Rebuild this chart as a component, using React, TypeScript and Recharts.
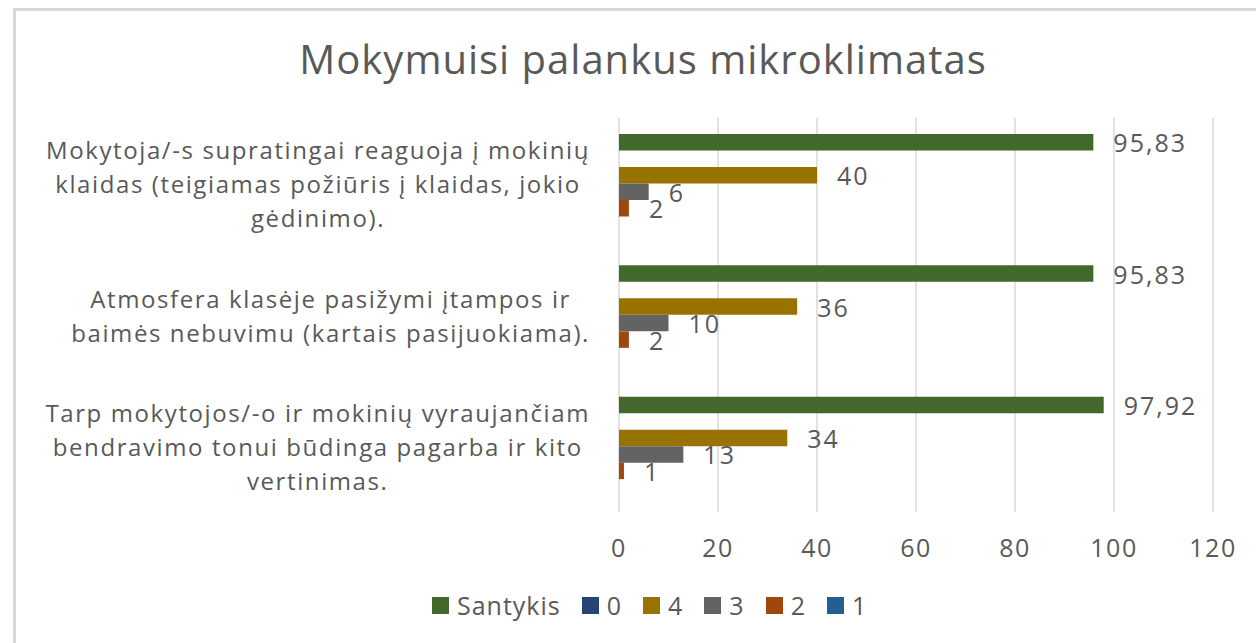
import React from 'react';
import { BarChart, Bar, XAxis, YAxis, CartesianGrid, Legend, LabelList } from 'recharts';

const categories = [
  'Mokytoja/-s supratingai reaguoja į mokinių\nklaidas (teigiamas požiūris į klaidas, jokio\ngėdinimo).',
  'Atmosfera klasėje pasižymi įtampos ir\nbaimės nebuvimu (kartais pasijuokiama).',
  'Tarp mokytojos/-o ir mokinių vyraujančiam\nbendravimo tonui būdinga pagarba ir kito\nvertinimas.',
];
const santykis = [95.83, 95.83, 97.92];
const s0: (number | null)[] = [null, null, null];
const s4 = [40, 36, 34];
const s3 = [6, 10, 13];
const s2 = [2, 2, 1];
const s1: (number | null)[] = [null, null, null];
const xTicks = [0, 20, 40, 60, 80, 100, 120];

const seriesList = [
  { key: 'Santykis', color: '#43682b' },
  { key: '0', color: '#264478' },
  { key: '4', color: '#997300' },
  { key: '3', color: '#636363' },
  { key: '2', color: '#9e480e' },
  { key: '1', color: '#255e91' },
];

const data = categories.map((name, i) => ({
  name,
  Santykis: santykis[i],
  '0': s0[i],
  '4': s4[i],
  '3': s3[i],
  '2': s2[i],
  '1': s1[i],
}));

const FONT = '"Open Sans", sans-serif';
const TEXT = '#595959';

let ctx: CanvasRenderingContext2D | null = null;
const measure = (s: string, size: number, spacing: number) => {
  if (!ctx) ctx = document.createElement('canvas').getContext('2d');
  if (!ctx) return s.length * (size * 0.55 + spacing);
  ctx.font = `${size}px "Open Sans"`;
  return ctx.measureText(s).width + s.length * spacing;
};

const CategoryTick = (props: any) => {
  const { x, y, payload } = props;
  const lines: string[] = String(payload.value).split('\n');
  const size = 24;
  const sp = 1.6;
  const lh = 34;
  const right = x - 21;
  const w = Math.max(...lines.map(l => measure(l, size, sp)));
  const cx = right - w / 2;
  return (
    <g>
      {lines.map((l, i) => (
        <text key={i} x={cx} y={y + (i - (lines.length - 1) / 2) * lh} textAnchor="middle"
          dominantBaseline="central" fontSize={size} letterSpacing={sp} fontFamily={FONT} fill={TEXT}>{l}</text>
      ))}
    </g>
  );
};

const NumberTick = (props: any) => {
  const { x, y, payload } = props;
  return (
    <text x={x} y={y + 27} textAnchor="middle" dominantBaseline="central" fontSize={25} letterSpacing={1.5} fontFamily={FONT} fill={TEXT}>
      {payload.value}
    </text>
  );
};

const ValueLabel = (props: any) => {
  const { x, y, width, height, value } = props;
  if (value == null) return null;
  return (
    <text x={x + width + 20} y={y + height / 2} dominantBaseline="central" fontSize={25} letterSpacing={2} fontFamily={FONT} fill={TEXT}>
      {String(value).replace('.', ',')}
    </text>
  );
};

const LegendBox = () => (
  <div style={{ display: 'flex', alignItems: 'center', fontFamily: FONT, fontSize: 25, letterSpacing: 1, color: TEXT, whiteSpace: 'nowrap' }}>
    {seriesList.map(s => (
      <div key={s.key} style={{ display: 'flex', alignItems: 'center', marginRight: 21 }}>
        <span style={{ width: 17, height: 17, background: s.color, display: 'inline-block', marginRight: 8 }} />
        <span>{s.key}</span>
      </div>
    ))}
  </div>
);

export default function App() {
  return (
    <div style={{ position: 'absolute', left: 0, top: 0, width: 1256, height: 643, overflow: 'hidden', background: '#fff' }}>
      <div style={{ position: 'absolute', left: 13, top: 8, width: 1260, height: 660, border: '3px solid #d9d9d9', boxSizing: 'border-box' }} />
      <div style={{ position: 'absolute', left: 0, top: 33, width: 1286, textAlign: 'center', fontFamily: FONT, fontSize: 40, letterSpacing: 1, color: TEXT, lineHeight: '52px' }}>
        Mokymuisi palankus mikroklimatas
      </div>
      <BarChart width={1256} height={643} data={data} layout="vertical"
        margin={{ top: 118, right: 43, bottom: 91, left: 19 }} barGap={0} barSize={16.5}>
        <CartesianGrid horizontal={false} stroke="#d9d9d9" strokeWidth={1.5} />
        <XAxis type="number" domain={[0, 120]} ticks={xTicks} axisLine={false} tickLine={false} height={40} tick={<NumberTick />} interval={0} />
        <YAxis type="category" dataKey="name" width={600} axisLine={false} tickLine={false} tick={<CategoryTick />} interval={0} />
        <Legend verticalAlign="middle" content={<LegendBox />} wrapperStyle={{ position: 'absolute', left: 432, top: 588, width: 'auto' }} />
        {seriesList.map(s => (
          <Bar key={s.key} dataKey={s.key} fill={s.color} isAnimationActive={false}>
            <LabelList dataKey={s.key} content={<ValueLabel />} />
          </Bar>
        ))}
      </BarChart>
    </div>
  );
}
